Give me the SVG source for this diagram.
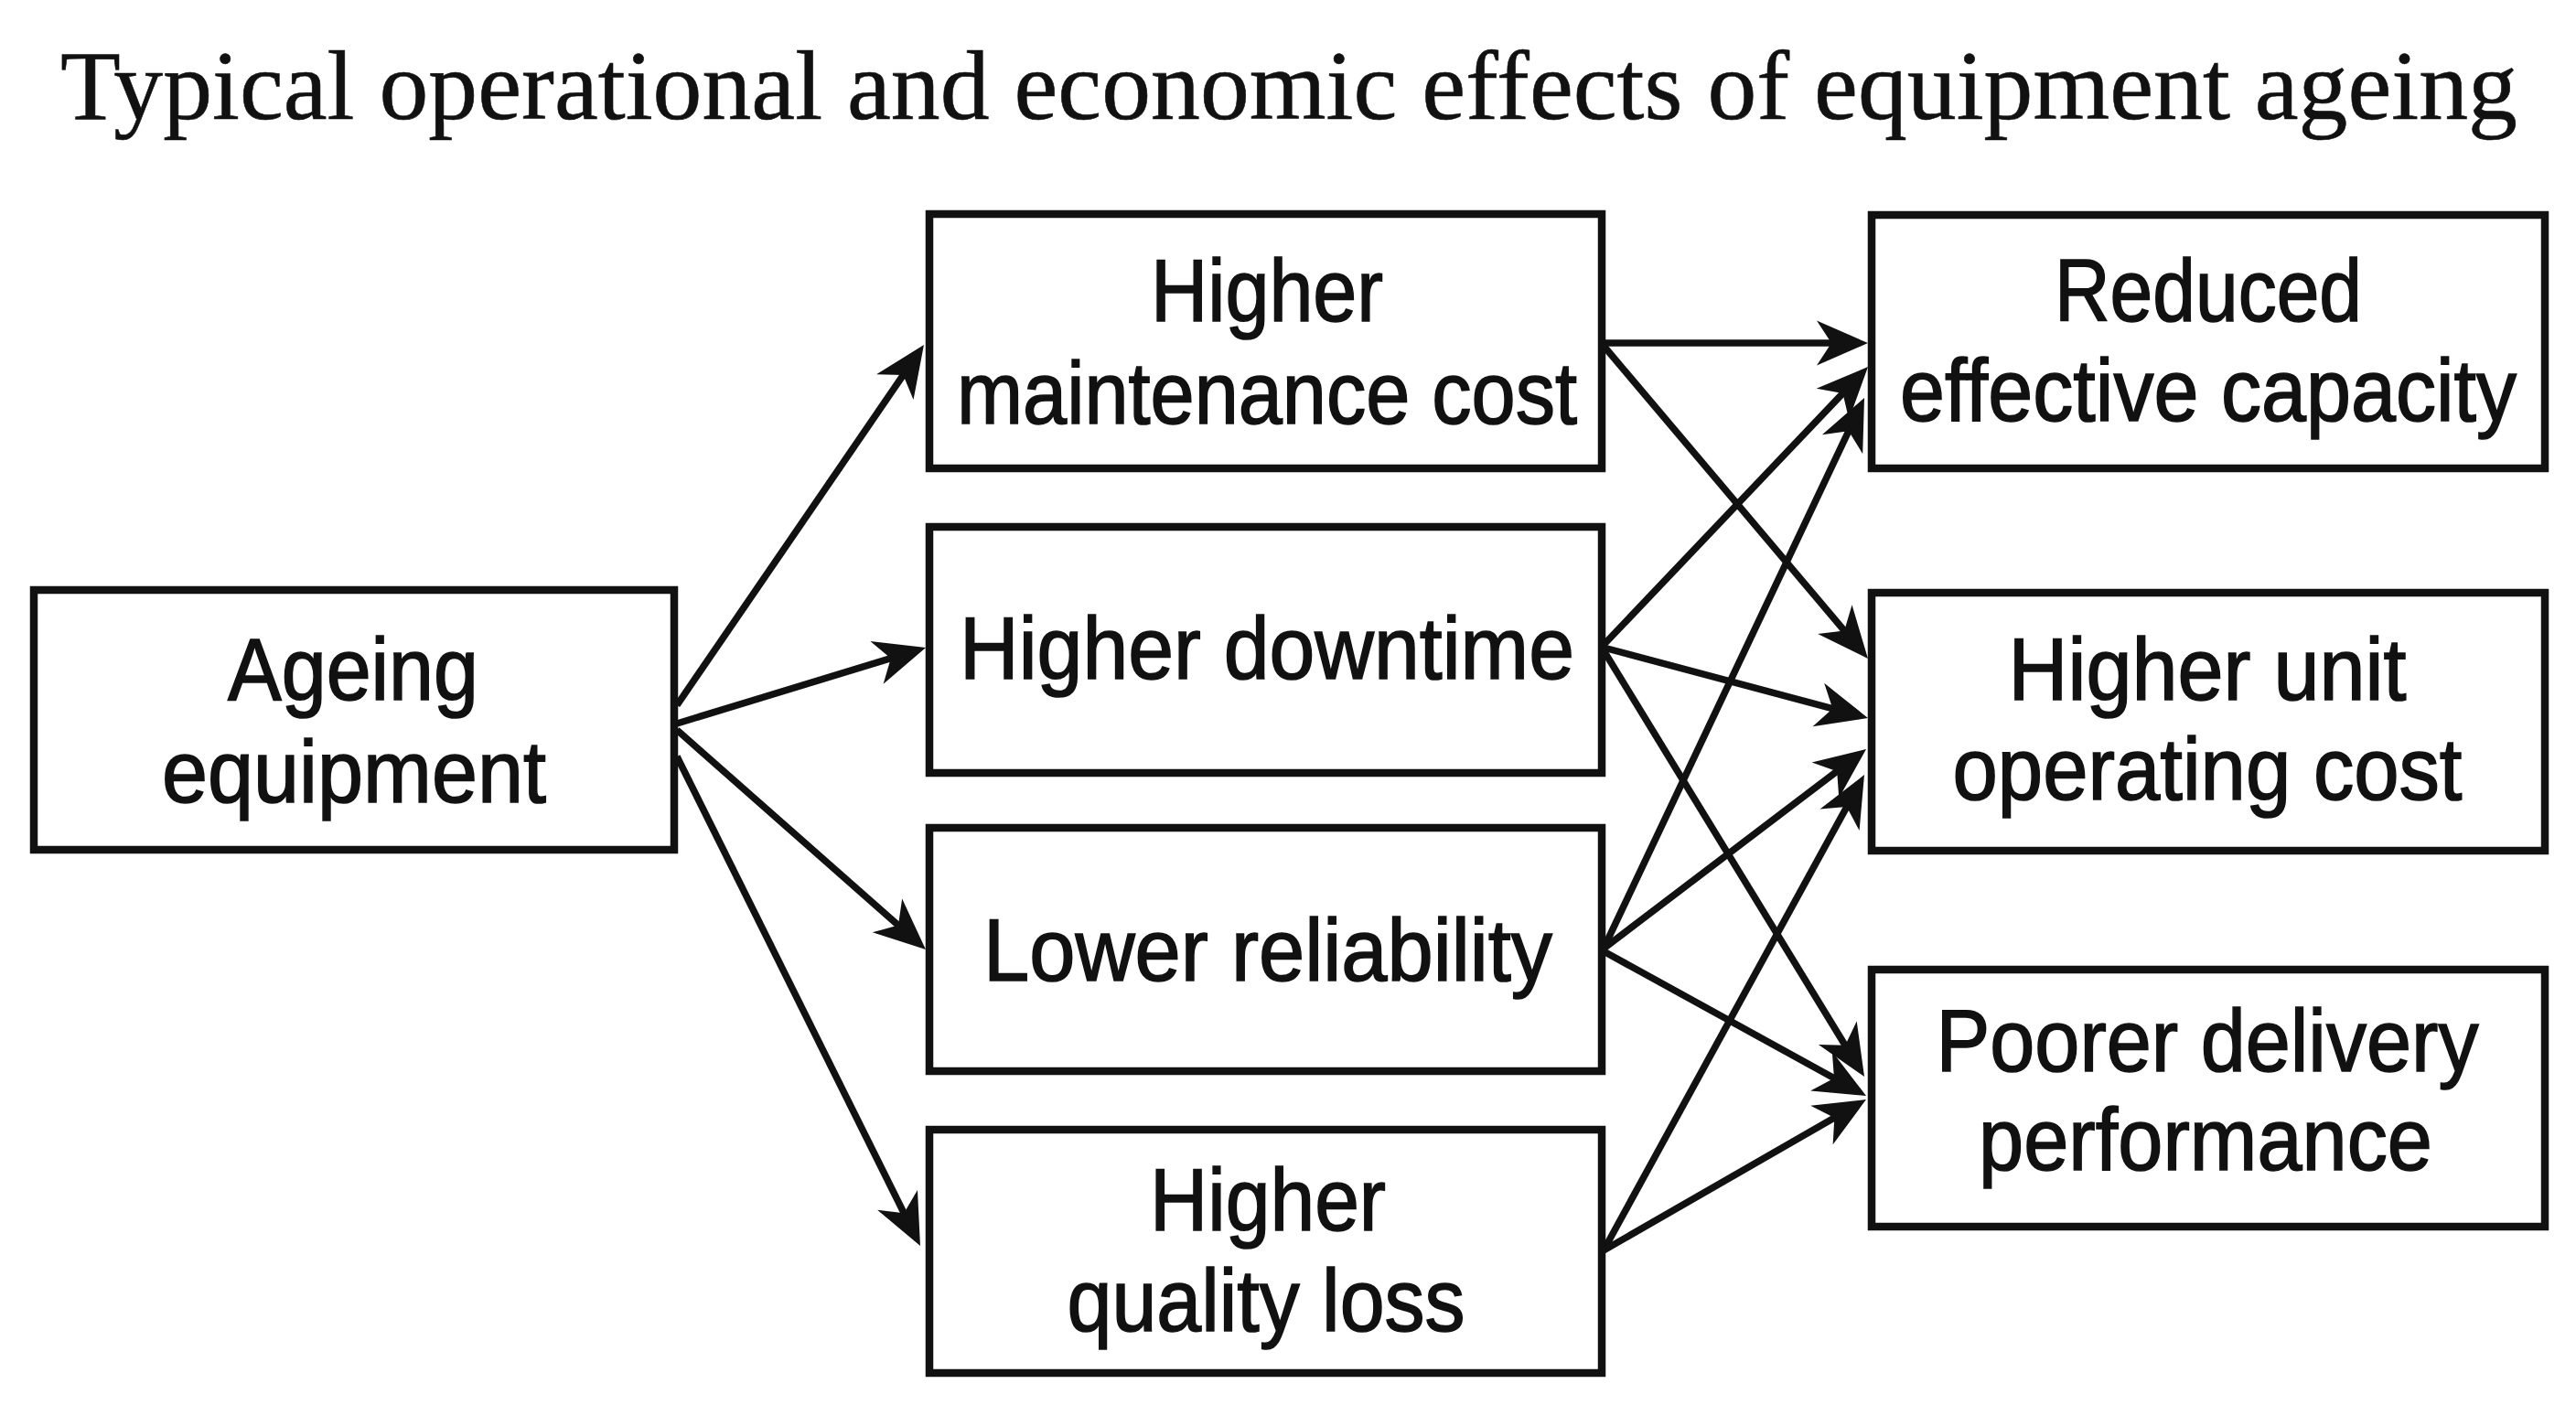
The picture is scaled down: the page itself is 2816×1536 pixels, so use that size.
<svg xmlns="http://www.w3.org/2000/svg" width="2816" height="1536" viewBox="0 0 2816 1536">
<defs>
<style>
.box{fill:#ffffff;stroke:#111111;stroke-width:8.5;}
.lbl{font-family:"Liberation Sans Narrow","Liberation Sans",Arial,sans-serif;font-size:96px;fill:#111111;stroke:#111111;stroke-width:1.6;text-anchor:middle;}
.title{font-family:"Liberation Serif","Times New Roman",serif;font-size:109px;fill:#111111;stroke:#111111;stroke-width:0.6;}
.conn{stroke:#111111;stroke-width:7.5;fill:none;marker-end:url(#ah);}
</style>
<marker id="ah" markerUnits="userSpaceOnUse" markerWidth="80" markerHeight="60" viewBox="-45 -30 80 60" refX="0" refY="0" orient="auto">
<path d="M15,0 L-41,-24.5 L-25,0 L-41,24.5 Z" fill="#111111"/>
</marker>
</defs>
<rect width="2816" height="1536" fill="#ffffff"/>
<text class="title" x="66" y="130" textLength="2686" lengthAdjust="spacingAndGlyphs">Typical operational and economic effects of equipment ageing</text>

<g id="connectors">
<line class="conn" x1="740" y1="771" x2="1001.5" y2="389.4"/>
<line class="conn" x1="740" y1="791" x2="997.7" y2="712.4"/>
<line class="conn" x1="740" y1="798" x2="1000.7" y2="1028.1"/>
<line class="conn" x1="740" y1="827" x2="999.3" y2="1348.6"/>
<line class="conn" x1="1753" y1="375" x2="2027" y2="375"/>
<line class="conn" x1="1753" y1="378" x2="2032.3" y2="708.5"/>
<line class="conn" x1="1753" y1="705" x2="2031.7" y2="411.9"/>
<line class="conn" x1="1753" y1="708" x2="2027.5" y2="781.1"/>
<line class="conn" x1="1753" y1="711" x2="2030.2" y2="1164.2"/>
<line class="conn" x1="1753" y1="1037" x2="2031.6" y2="448.6"/>
<line class="conn" x1="1753" y1="1037" x2="2028.1" y2="828.1"/>
<line class="conn" x1="1753" y1="1040" x2="2026.9" y2="1190.8"/>
<line class="conn" x1="1753" y1="1367" x2="2030.8" y2="860.2"/>
<line class="conn" x1="1753" y1="1367" x2="2027" y2="1209.5"/>
</g>

<g id="ageing-equipment">
<rect class="box" x="37" y="645" width="700" height="284"/>
<text class="lbl" x="386" y="765" textLength="274" lengthAdjust="spacingAndGlyphs">Ageing</text>
<text class="lbl" x="387" y="877" textLength="420" lengthAdjust="spacingAndGlyphs">equipment</text>
</g>

<g id="higher-maintenance-cost">
<rect class="box" x="1016" y="234" width="735" height="278"/>
<text class="lbl" x="1385" y="351" textLength="254" lengthAdjust="spacingAndGlyphs">Higher</text>
<text class="lbl" x="1385" y="463" textLength="678" lengthAdjust="spacingAndGlyphs">maintenance cost</text>
</g>

<g id="higher-downtime">
<rect class="box" x="1016" y="576" width="735" height="269"/>
<text class="lbl" x="1385" y="742" textLength="672" lengthAdjust="spacingAndGlyphs">Higher downtime</text>
</g>

<g id="lower-reliability">
<rect class="box" x="1016" y="905" width="735" height="266"/>
<text class="lbl" x="1386" y="1072" textLength="622" lengthAdjust="spacingAndGlyphs">Lower reliability</text>
</g>

<g id="higher-quality-loss">
<rect class="box" x="1016" y="1235" width="735" height="266"/>
<text class="lbl" x="1386" y="1345" textLength="258" lengthAdjust="spacingAndGlyphs">Higher</text>
<text class="lbl" x="1384" y="1455" textLength="435" lengthAdjust="spacingAndGlyphs">quality loss</text>
</g>

<g id="reduced-effective-capacity">
<rect class="box" x="2046" y="235" width="736" height="277"/>
<text class="lbl" x="2414" y="351" textLength="336" lengthAdjust="spacingAndGlyphs">Reduced</text>
<text class="lbl" x="2414" y="460" textLength="674" lengthAdjust="spacingAndGlyphs">effective capacity</text>
</g>

<g id="higher-unit-operating-cost">
<rect class="box" x="2046" y="648" width="736" height="282"/>
<text class="lbl" x="2413" y="765" textLength="435" lengthAdjust="spacingAndGlyphs">Higher unit</text>
<text class="lbl" x="2413" y="874" textLength="557" lengthAdjust="spacingAndGlyphs">operating cost</text>
</g>

<g id="poorer-delivery-performance">
<rect class="box" x="2046" y="1060" width="736" height="281"/>
<text class="lbl" x="2413" y="1171" textLength="593" lengthAdjust="spacingAndGlyphs">Poorer delivery</text>
<text class="lbl" x="2411" y="1279" textLength="496" lengthAdjust="spacingAndGlyphs">performance</text>
</g>
</svg>
